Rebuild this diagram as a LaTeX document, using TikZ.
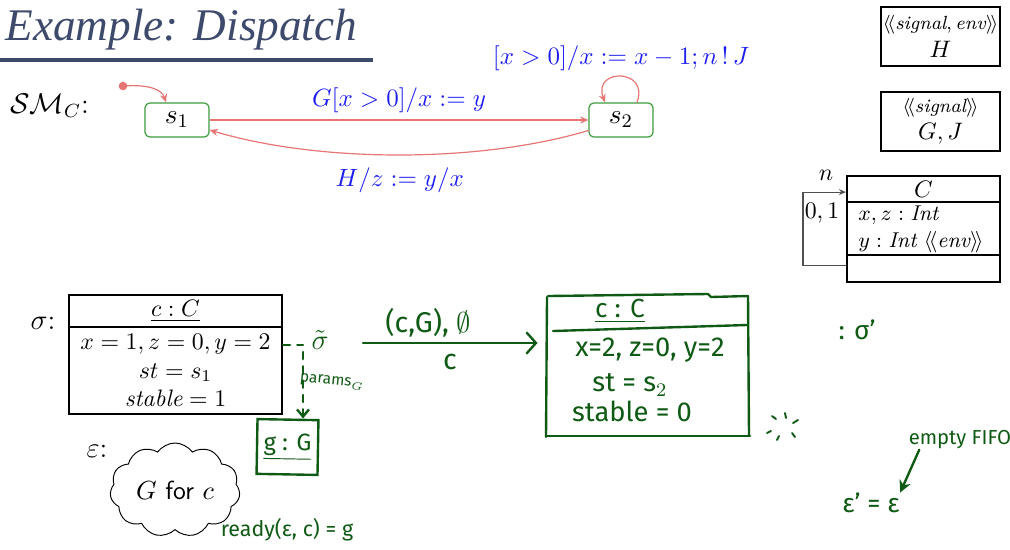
\RequirePackage{fix-cm}
\documentclass[tikz,border=0pt]{standalone}
\usepackage{amsmath}
\usepackage{fontspec}
\newfontfamily\titlefont{Liberation Serif}
\newfontfamily\handfont{Fira Sans}
\usetikzlibrary{arrows.meta,shapes.symbols}
\definecolor{titleblue}{HTML}{3E4A6C}
\definecolor{trred}{HTML}{E87474}
\definecolor{stgreen}{HTML}{3C9A3C}
\definecolor{lblue}{HTML}{1E1EF0}
\definecolor{hgreen}{HTML}{0F5A14}
\definecolor{assocgray}{HTML}{505050}
\tikzset{
  tr/.style={draw=trred, line width=0.5pt, -{Stealth[length=3.5pt,width=3pt]}},
  state/.style={draw=stgreen, line width=0.5pt, rounded corners=2pt, minimum width=26.9pt, minimum height=14.3pt, inner sep=0, font=\fontsize{11.5}{13}\selectfont},
  lbl/.style={text=lblue, font=\fontsize{10.5}{12}\selectfont, inner sep=0},
  box/.style={draw=black, line width=0.8pt, inner sep=0},
  hw/.style={draw=hgreen, line width=1pt, line cap=round, line join=round},
  htext/.style={text=hgreen, font=\handfont\fontsize{12}{14}\selectfont, inner sep=0},
  hsmall/.style={text=hgreen, font=\handfont\fontsize{8.5}{10}\selectfont, inner sep=0},
  assoc/.style={draw=assocgray, line width=0.5pt},
}
\begin{document}
\begin{tikzpicture}[x=0.42pt,y=-0.42pt]
\useasboundingbox (0,0) rectangle (1010,549);

% title
\node[anchor=base west, inner sep=0, text=titleblue, font={\titlefont\itshape\fontsize{19}{22}\selectfont}] (title) at (5,40) {Example: Dispatch};
\draw[titleblue, line width=1.3pt] (0,60) -- (373,60);

% state machine
\node[anchor=west, inner sep=0, font=\fontsize{12}{14}\selectfont] (smc) at (10,106) {$\mathcal{SM}_C$:};
\node[state] (s1) at (177,120) {$s_1$};
\node[state] (s2) at (621,120) {$s_2$};
\coordinate (init) at (123,86);
\fill[trred] (init) circle (1.8pt);
\draw[tr] (init) .. controls (150,84) and (162,90) .. ([xshift=-4.6pt]s1.north);
\draw[tr] (s1.east) -- node[lbl, above=3pt] {$G[x>0]/x := y$} (s2.west);
\draw[tr] ([yshift=-4.4pt]s2.west) .. controls (480,163) and (320,163) .. node[lbl, below=5pt] {$H/z := y/x$} ([yshift=-4.2pt]s1.east);
\draw[tr] ([xshift=6.7pt]s2.north) .. controls (650,68) and (592,68) .. node[lbl, above=2pt] {$[x>0]/x := x-1; n\,!\,J$} ([xshift=-6.7pt]s2.north);

% signal boxes
\node[box, minimum width=50pt, minimum height=24.8pt, align=center, font=\fontsize{10}{11.8}\selectfont] (sigH) at (940.5,36.5)
  {{\fontsize{8}{9}\selectfont$\langle\!\langle \mathit{signal}, \mathit{env}\rangle\!\rangle$}\\$H$};
\node[box, minimum width=50pt, minimum height=24.8pt, align=center, font=\fontsize{10}{11.4}\selectfont] (sigGJ) at (940.5,121.5)
  {{\fontsize{8}{9}\selectfont$\langle\!\langle \mathit{signal}\rangle\!\rangle$}\\$G, J$};

% class C
\node[box, minimum width=64.3pt, minimum height=10.9pt, font=\fontsize{10}{12}\selectfont] (Chead) at (923.5,189) {$C$};
\node[box, minimum width=64.3pt, minimum height=22.3pt] (Cattr) at (923.5,228.7) {};
\node[box, minimum width=64.3pt, minimum height=11.3pt] (Cbot) at (923.5,268.8) {};
\node[anchor=west, inner sep=0, align=left, font=\fontsize{9}{11.3}\selectfont] (Cattrtxt) at (858,229)
  {$x, z : \mathit{Int}$\\$y : \mathit{Int}\ \langle\!\langle \mathit{env}\rangle\!\rangle$};
\draw[assoc, -{Stealth[length=3pt,width=2.5pt]}] ([yshift=1.5pt]Cbot.west) -- ++(-43,0) |- ([yshift=-1.3pt]Chead.west);
\node[inner sep=0, font=\fontsize{10}{12}\selectfont] (nlab) at (826,175) {$n$};
\node[inner sep=0, font=\fontsize{10}{12}\selectfont] (mult) at (822,213) {$0,1$};

% sigma object
\node[inner sep=0, font=\fontsize{12}{14}\selectfont] (sigl) at (43,323) {$\sigma$:};
\node[box, minimum width=89.5pt, minimum height=13.4pt, font=\fontsize{10}{12}\selectfont] (sighead) at (175.5,311) {$\underline{c : C}$};
\node[box, minimum width=89.5pt, minimum height=36.5pt, align=center, font=\fontsize{10}{12}\selectfont] (sigbody) at (175.5,370.5)
  {$x = 1, z = 0, y = 2$\\$st = s_1$\\$\mathit{stable} = 1$};

% environment
\node[inner sep=0, font=\fontsize{12}{14}\selectfont] (epsl) at (97,451) {$\varepsilon$:};
\node[cloud, draw, line width=0.4pt, cloud puffs=11, cloud puff arc=110, aspect=1.4, minimum width=54.6pt, minimum height=39.5pt, inner sep=0, font=\fontsize{11}{13}\selectfont] (env) at (175,490) {$G$ \textsf{for} $c$};

% handwritten annotations
\node[htext] (sigt) at (320,340) {$\tilde{\sigma}$};
\draw[hw, dashed, dash pattern=on 3pt off 3pt] (sigbody.east |- sigt) ++(0,5) -- (303,345);
\coordinate (dtop) at (303,352);
\node[htext, draw=hgreen, line width=1pt, minimum width=25.6pt, minimum height=23pt, rotate=-1, font=\handfont\fontsize{10}{12}\selectfont] (gG) at (287.5,447) {\underline{g : G}};
\draw[hw, dash pattern=on 3pt off 3pt, -{Straight Barb[length=3pt,width=5pt]}] (dtop) -- (dtop |- gG.north);
\node[hsmall, font=\handfont\fontsize{6.5}{8}\selectfont, rotate=-6] (params) at (332,382) {params$_G$};
\node[hsmall, font=\handfont\fontsize{9}{11}\selectfont] (ready) at (287,530) {ready(ε, c) = g};

\coordinate (astart) at (363,343);
\node[minimum width=84.4pt, minimum height=59.6pt, inner sep=0] (hbox) at (647.5,365) {};
\draw[hw, -{Straight Barb[length=4pt,width=9pt]}] (astart) -- (astart -| hbox.west) [shorten >=3.8pt];
\node[htext] (albl) at (428,323) {(c,G), $\emptyset$};
\node[htext] (alblc) at (450,362) {c};

\draw[hw] (548,296) -- (708,294) -- (711,297) -- (748,296);
\draw[hw] (547,297) -- (546,437);
\draw[hw] (553,331) -- (747,325);
\draw[hw] (748,296) -- (749,436);
\draw[hw] (546,436) -- (750,436);
\node[htext, font=\handfont\fontsize{11}{13}\selectfont] (hhead) at (620,311) {\underline{c : C}};
\node[htext, font=\handfont\fontsize{11.5}{13}\selectfont] (hl1) at (650,350) {x=2, z=0, y=2};
\node[htext, font=\handfont\fontsize{11.5}{13}\selectfont] (hl2) at (630,385) {st = s$_2$};
\node[htext, font=\handfont\fontsize{11.5}{13}\selectfont] (hl3) at (632,411) {stable = 0};

\draw[hw, line width=0.8pt] (772,416)--(776,419) (785,413)--(786,418) (793,423)--(798,420)
  (767,433)--(771,431) (777,440)--(779,436) (792,433)--(795,437);

\node[htext, font=\handfont\fontsize{11}{13}\selectfont] (sigp) at (857,330) {: σ’};
\node[hsmall] (fifo) at (960,440) {empty FIFO};
\node[htext, font=\handfont\fontsize{11}{13}\selectfont] (epsp) at (871,503) {ε’ = ε};
\draw[hw, -{Stealth[length=5pt,width=5pt]}] ([xshift=4.6pt]fifo.south west) -- (epsp.north east);
\end{tikzpicture}
\end{document}
